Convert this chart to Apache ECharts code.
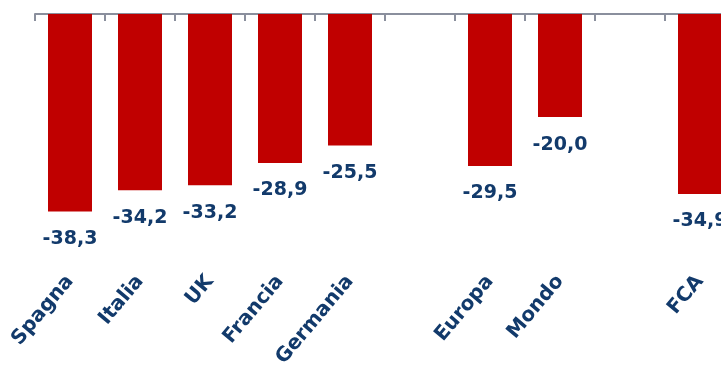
<!DOCTYPE html>
<html><head><meta charset="utf-8">
<script src="https://cdn.jsdelivr.net/npm/echarts@6/dist/echarts.min.js"></script>
<style>html,body{margin:0;padding:0;background:#fff}#c{width:721px;height:366px}</style>
</head><body><div id="c"></div>
<script>
const categories = ['Spagna','Italia','UK','Francia','Germania','','Europa','Mondo','','FCA'];
const values = [-38.3, -34.2, -33.2, -28.9, -25.5, null, -29.5, -20.0, null, -34.9];

const chart = echarts.init(document.getElementById('c'));
const navy = '#123a6b';
const font = 'DejaVu Sans';
chart.setOption({
  animation: false,
  grid: { left: 35, width: 700, top: 14, height: 250, containLabel: false, outerBoundsMode: 'none' },
  xAxis: [
    { type: 'category', data: categories, position: 'top',
      axisLine: { show: true, onZero: false, lineStyle: { color: '#8a8f9d', width: 2 } },
      axisTick: { show: true, inside: true, length: 7, lineStyle: { color: '#8a8f9d', width: 2 } },
      axisLabel: { show: false }, splitLine: { show: false } },
    { type: 'category', data: categories, position: 'bottom',
      axisLine: { show: false }, axisTick: { show: false },
      axisLabel: { show: true, rotate: 50, margin: 14, interval: 0,
        color: navy, fontFamily: font, fontWeight: 'bold', fontSize: 20 } }
  ],
  yAxis: { type: 'value', min: -48.5, max: 0, show: false, splitLine: { show: false } },
  series: [{
    type: 'bar', xAxisIndex: 0, data: values, barWidth: 44,
    itemStyle: { color: '#c00000' },
    label: { show: true, position: 'bottom', distance: 18, color: navy,
      fontFamily: font, fontWeight: 'bold', fontSize: 19,
      formatter: p => p.value.toFixed(1).replace('.', ',') }
  }]
});
</script></body></html>
